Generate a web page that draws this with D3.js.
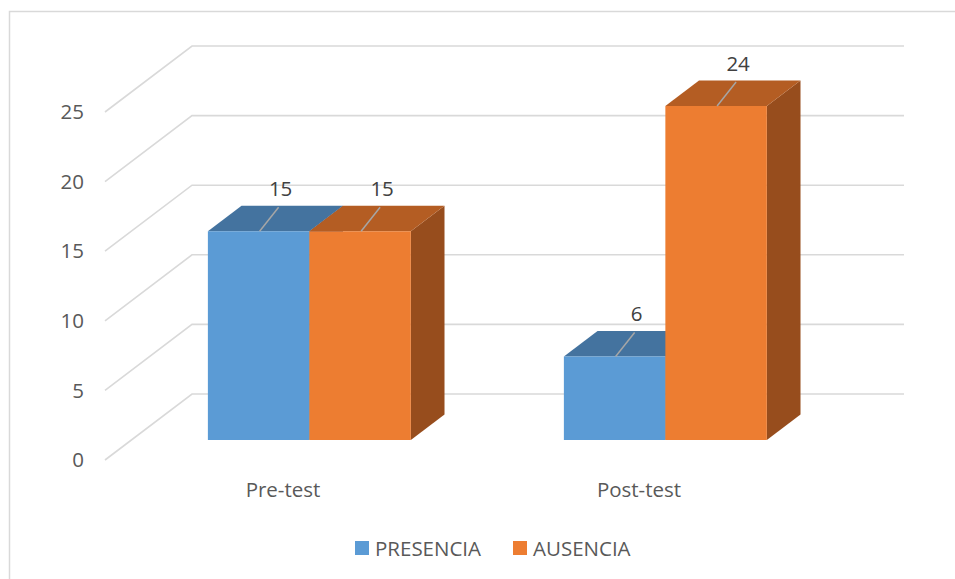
<!DOCTYPE html>
<html>
<head>
<meta charset="utf-8">
<script src="https://cdn.jsdelivr.net/npm/d3@7"></script>
<style>
  body { margin: 0; background: #fff; }
  svg { display: block; font-family: "Open Sans", sans-serif; }
</style>
</head>
<body>
<div id="chart"></div>
<script>
// data
const categories = ["Pre-test", "Post-test"];
const series = ["PRESENCIA", "AUSENCIA"];
const presencia = [15, 6];
const ausencia = [15, 24];
const yTicks = [0, 5, 10, 15, 20, 25];

const W = 955, H = 579;
const colors = {
  PRESENCIA: { front: "#5b9bd5", top: "#44739f", side: "#3a6590" },
  AUSENCIA: { front: "#ed7d31", top: "#b45d23", side: "#974d1d" }
};

// 3d wall offset (front plane -> back wall)
const depthX = 87, depthY = -66;
const barD0 = 0.303, barD1 = 0.69;
const fontSize = 20.5;

const svg = d3.select("#chart").append("svg")
  .attr("width", W).attr("height", H);

// chart border
svg.append("rect")
  .attr("x", 9.5).attr("y", 11.5)
  .attr("width", 1000).attr("height", 1000)
  .attr("fill", "none").attr("stroke", "#d9d9d9").attr("stroke-width", 1.5);

const x0 = d3.scaleBand().domain(categories).range([105, 817]).padding(0);
const x1 = d3.scaleBand().domain(series).range([0, x0.bandwidth()]).paddingOuter(0.754).paddingInner(0);
const y = d3.scaleLinear().domain([0, 25]).range([460, 112]);

function proj(px, v, d) {
  return [px + depthX * d, y(v) + depthY * d];
}

// gridlines: side wall diagonal + back wall horizontal
const grid = svg.append("g");
yTicks.forEach(t => {
  const a = proj(105, t, 0), b = proj(105, t, 1), c = proj(817, t, 1);
  grid.append("path")
    .attr("d", d3.line()([a, b, c]))
    .attr("fill", "none")
    .attr("stroke", "#d9d9d9")
    .attr("stroke-width", 1.6);
  grid.append("text")
    .attr("x", 84).attr("y", y(t))
    .attr("dy", "0.35em")
    .attr("text-anchor", "end")
    .attr("font-size", fontSize)
    .attr("fill", "#595959")
    .text(t);
});

// bars
const rows = categories.map((c, i) => ({
  cat: c,
  vals: [{ key: "PRESENCIA", v: presencia[i] }, { key: "AUSENCIA", v: ausencia[i] }]
}));

const bars = svg.append("g");
const labels = svg.append("g");
rows.forEach(r => {
  r.vals.forEach(s => {
    const xl = x0(r.cat) + x1(s.key), xr = xl + x1.bandwidth();
    const col = colors[s.key];
    const fbl = proj(xl, 0, barD0), fbr = proj(xr, 0, barD0);
    const ftl = proj(xl, s.v, barD0), ftr = proj(xr, s.v, barD0);
    const btl = proj(xl, s.v, barD1), btr = proj(xr, s.v, barD1);
    const bbr = proj(xr, 0, barD1);
    bars.append("path").attr("d", d3.line()([fbr, ftr, btr, bbr]) + "Z").attr("fill", col.side);
    bars.append("path").attr("d", d3.line()([ftl, ftr, btr, btl]) + "Z").attr("fill", col.top);
    bars.append("path").attr("d", d3.line()([fbl, ftl, ftr, fbr]) + "Z").attr("fill", col.front);

    // data label + leader
    const cx = (ftl[0] + ftr[0]) / 2, cy = ftl[1];
    labels.append("line")
      .attr("x1", cx + 1).attr("y1", cy)
      .attr("x2", cx + 20).attr("y2", cy - 24)
      .attr("stroke", "#a6a6a6").attr("stroke-width", 1.5);
    labels.append("text")
      .attr("x", cx + 22).attr("y", cy - 35)
      .attr("text-anchor", "middle")
      .attr("font-size", fontSize)
      .attr("fill", "#404040")
      .text(s.v);
  });
  // category label on front plane
  svg.append("text")
    .attr("x", x0(r.cat) + x0.bandwidth() / 2)
    .attr("y", y(0) + 37)
    .attr("text-anchor", "middle")
    .attr("font-size", fontSize)
    .attr("fill", "#595959")
    .text(r.cat);
});

// legend
const legend = svg.append("g");
const legX = [355, 513];
series.forEach((s, i) => {
  legend.append("rect")
    .attr("x", legX[i]).attr("y", 541)
    .attr("width", 14).attr("height", 14)
    .attr("fill", colors[s].front);
  legend.append("text")
    .attr("x", legX[i] + 20).attr("y", 556)
    .attr("font-size", fontSize)
    .attr("fill", "#595959")
    .text(s);
});
</script>
</body>
</html>
